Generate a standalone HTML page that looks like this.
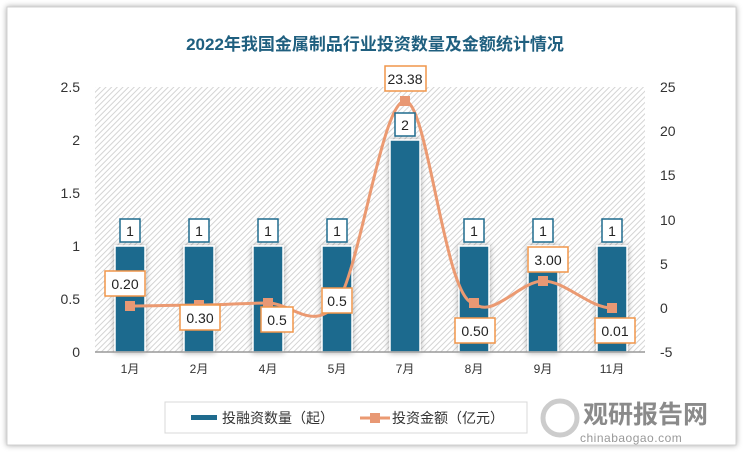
<!DOCTYPE html><html><head><meta charset="utf-8"><style>
body{margin:0;width:750px;height:461px;background:#fff;overflow:hidden;font-family:"Liberation Sans","Noto Sans CJK SC",sans-serif}
</style></head><body>
<svg width="750" height="461" viewBox="0 0 750 461" xmlns="http://www.w3.org/2000/svg" font-family="Liberation Sans, Noto Sans CJK SC, sans-serif">
<defs>
<pattern id="h" width="4" height="4" patternUnits="userSpaceOnUse" patternTransform="rotate(45)">
<rect width="4" height="4" fill="#fff"/><line x1="0" y1="0" x2="0" y2="4" stroke="#d4d4d4" stroke-width="2"/></pattern>
<filter id="sh" x="-20%" y="-20%" width="140%" height="140%"><feDropShadow dx="0" dy="0" stdDeviation="3" flood-color="#000" flood-opacity="0.35"/></filter>
</defs>
<rect x="7" y="7" width="729" height="438" fill="#fff" stroke="#d0d0d0" filter="url(#sh)"/>
<text x="375" y="50" text-anchor="middle" font-size="17" font-weight="bold" fill="#1f5f7f">2022年我国金属制品行业投资数量及金额统计情况</text>
<rect x="95" y="87" width="550" height="265" fill="url(#h)"/>
<g font-size="14" fill="#333" text-anchor="end">
<text x="80" y="357">0</text><text x="80" y="304">0.5</text><text x="80" y="251">1</text><text x="80" y="198">1.5</text><text x="80" y="145">2</text><text x="80" y="92">2.5</text></g>
<g font-size="14" fill="#333" text-anchor="start">
<text x="660" y="357">-5</text><text x="660" y="313">0</text><text x="660" y="269">5</text><text x="660" y="225">10</text><text x="660" y="180">15</text><text x="660" y="136">20</text><text x="660" y="92">25</text></g>
<g fill="#1f6b8e" stroke="#fff" stroke-width="1.5" filter="url(#sh)">
<rect x="115" y="246" width="30" height="106"/><rect x="184" y="246" width="30" height="106"/><rect x="253" y="246" width="30" height="106"/><rect x="322" y="246" width="30" height="106"/><rect x="390" y="140" width="30" height="212"/><rect x="459" y="246" width="30" height="106"/><rect x="528" y="246" width="30" height="106"/><rect x="597" y="246" width="30" height="106"/></g>
<line x1="95" y1="352" x2="645" y2="352" stroke="#999" stroke-width="1.5"/>
<g font-size="12" fill="#333" text-anchor="middle">
<text x="130" y="373">1月</text><text x="199" y="373">2月</text><text x="268" y="373">4月</text><text x="337" y="373">5月</text><text x="405" y="373">7月</text><text x="474" y="373">8月</text><text x="543" y="373">9月</text><text x="612" y="373">11月</text></g>
<path d="M130,306 C153,306 176,305 199,305 C222,305 245,303 268,303 C291,303 314,333 337,303 C360,270 382,101 405,101 C428,101 445,303 474,303 C492,320 520,281 543,281 C566,281 589,308 612,308" fill="none" stroke="#eb9a72" stroke-width="3"/>
<g fill="#e89874"><rect x="125" y="301" width="10" height="10"/><rect x="194" y="300" width="10" height="10"/><rect x="263" y="298" width="10" height="10"/><rect x="332" y="298" width="10" height="10"/><rect x="400" y="96" width="10" height="10"/><rect x="469" y="298" width="10" height="10"/><rect x="538" y="276" width="10" height="10"/><rect x="607" y="303" width="10" height="10"/></g>
<g fill="#fff" stroke="#1f6b8e" stroke-width="1.5">
<rect x="120" y="219" width="20" height="23"/><rect x="189" y="219" width="20" height="23"/><rect x="258" y="219" width="20" height="23"/><rect x="327" y="219" width="20" height="23"/><rect x="395" y="113" width="20" height="23"/><rect x="464" y="219" width="20" height="23"/><rect x="533" y="219" width="20" height="23"/><rect x="602" y="219" width="20" height="23"/></g>
<g font-size="14" fill="#222" text-anchor="middle">
<text x="130" y="236">1</text><text x="199" y="236">1</text><text x="268" y="236">1</text><text x="337" y="236">1</text><text x="405" y="130">2</text><text x="474" y="236">1</text><text x="543" y="236">1</text><text x="612" y="236">1</text></g>
<g fill="#fff" stroke="#f0964a" stroke-width="1.5">
<rect x="105" y="271" width="40" height="25"/><rect x="180" y="305" width="40" height="25"/><rect x="261" y="307" width="32" height="25"/><rect x="322" y="288" width="30" height="25"/><rect x="385" y="66" width="41" height="25"/><rect x="455" y="318" width="40" height="25"/><rect x="528" y="247" width="40" height="25"/><rect x="595" y="318" width="40" height="25"/></g>
<g font-size="14" fill="#222" text-anchor="middle">
<text x="125" y="289">0.20</text><text x="200" y="323">0.30</text><text x="277" y="325">0.5</text><text x="337" y="306">0.5</text><text x="405" y="84">23.38</text><text x="475" y="336">0.50</text><text x="548" y="265">3.00</text><text x="615" y="336">0.01</text></g>
<rect x="165" y="402" width="362" height="31" fill="#fff" stroke="#d8d8d8"/>
<rect x="191" y="415" width="26" height="5" fill="#1f6b8e"/>
<text x="222" y="423" font-size="14" fill="#333">投融资数量（起）</text>
<line x1="360" y1="418" x2="390" y2="418" stroke="#eb9a72" stroke-width="3"/><rect x="370" y="413" width="10" height="10" fill="#e89874"/>
<text x="392" y="423" font-size="14" fill="#333">投资金额（亿元）</text>
<circle cx="560" cy="418" r="17" fill="none" stroke="#ccc" stroke-width="5"/>
<text x="583" y="423" font-size="25" font-weight="bold" fill="#8a8a8a">观研报告网</text>
<text x="580" y="442" font-size="12" fill="#999" letter-spacing="0.5">chinabaogao.com</text>
</svg></body></html>
